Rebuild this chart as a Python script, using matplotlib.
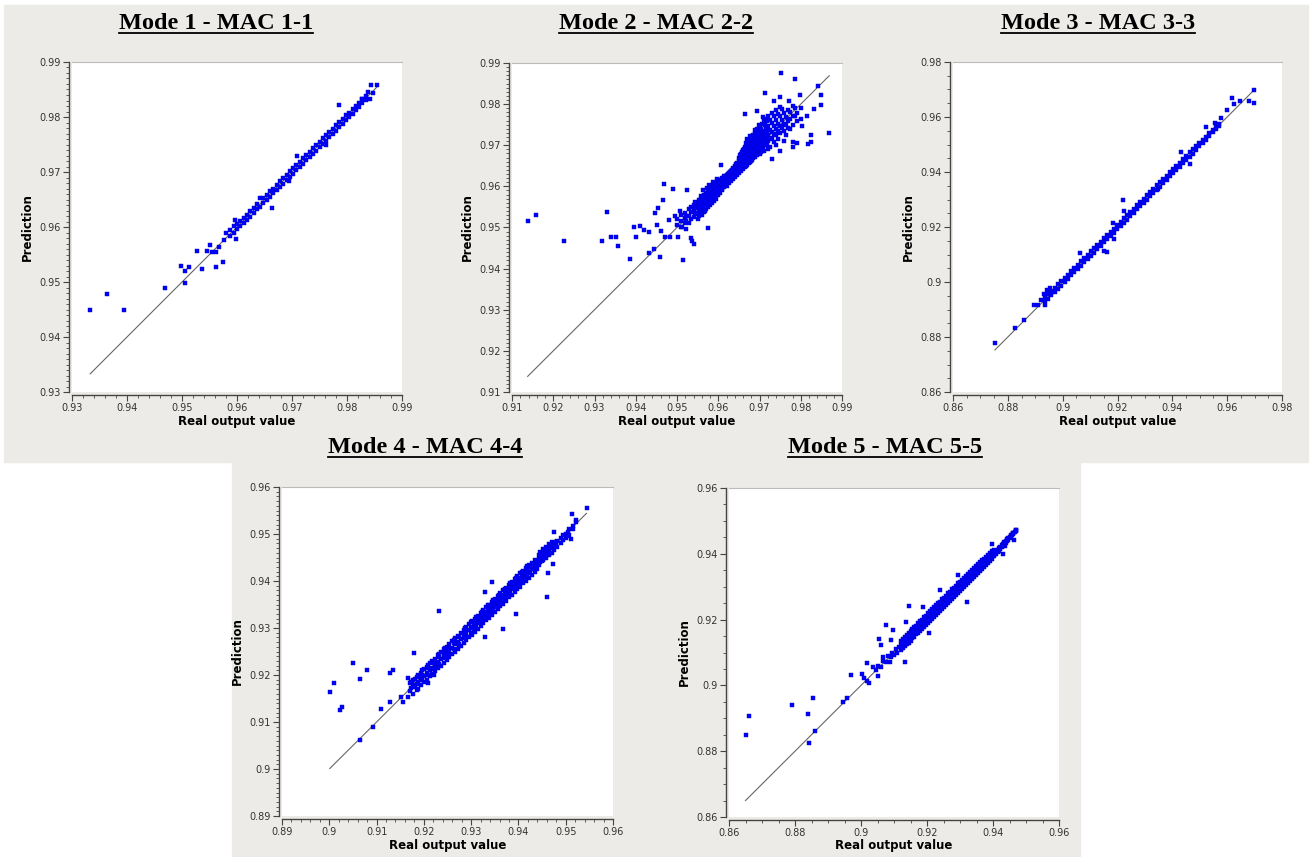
import matplotlib.pyplot as plt
from matplotlib.ticker import MultipleLocator, AutoMinorLocator, FuncFormatter
from matplotlib.patches import Rectangle
from matplotlib.lines import Line2D

titles = ["Mode 1 - MAC 1-1", "Mode 2 - MAC 2-2", "Mode 3 - MAC 3-3",
          "Mode 4 - MAC 4-4", "Mode 5 - MAC 5-5"]
limits = [(0.93, 0.99), (0.91, 0.99), (0.86, 0.98), (0.89, 0.96), (0.86, 0.96)]
steps = [0.01, 0.01, 0.02, 0.01, 0.02]

# isolated points (real, prediction)
out1 = [(0.9333, 0.9449), (0.9363, 0.9478), (0.9395, 0.9449), (0.9469, 0.9490),
        (0.9498, 0.9530), (0.9505, 0.9520), (0.9505, 0.9499), (0.9513, 0.9527),
        (0.9528, 0.9556), (0.9537, 0.9524), (0.9545, 0.9557), (0.9551, 0.9567),
        (0.9554, 0.9554), (0.9561, 0.9554), (0.9561, 0.9528), (0.9567, 0.9564),
        (0.9575, 0.9536), (0.9577, 0.9576), (0.9580, 0.9590), (0.9598, 0.9578),
        (0.9596, 0.9613), (0.9664, 0.9634), (0.9695, 0.9683), (0.9709, 0.9729),
        (0.9761, 0.9749), (0.9786, 0.9822), (0.9827, 0.9833), (0.9842, 0.9833),
        (0.9843, 0.9859), (0.9854, 0.9859), (0.9838, 0.9846), (0.9848, 0.9843)]
# dense band: real value, predictions at that value
band1 = [(0.9588, (0.9594, 0.9583)), (0.9594, (0.9590, 0.9601)), (0.9600, (0.9606, 0.9596)),
         (0.9606, (0.9601, 0.9611)), (0.9612, (0.9617, 0.9607)), (0.9618, (0.9613, 0.9622)),
         (0.9624, (0.9630, 0.9619)), (0.9630, (0.9625, 0.9635)), (0.9636, (0.9641, 0.9632)),
         (0.9642, (0.9637, 0.9653)), (0.9648, (0.9652, 0.9643)), (0.9654, (0.9650, 0.9659)),
         (0.9660, (0.9665, 0.9655)), (0.9666, (0.9661, 0.9670)), (0.9672, (0.9677, 0.9667)),
         (0.9678, (0.9673, 0.9683)), (0.9684, (0.9689, 0.9679)), (0.9690, (0.9685, 0.9695)),
         (0.9696, (0.9701, 0.9691)), (0.9702, (0.9697, 0.9708)), (0.9708, (0.9713, 0.9703)),
         (0.9714, (0.9709, 0.9719)), (0.9720, (0.9725, 0.9715)), (0.9726, (0.9721, 0.9731)),
         (0.9732, (0.9737, 0.9727)), (0.9738, (0.9733, 0.9744)), (0.9744, (0.9749, 0.9739)),
         (0.9750, (0.9745, 0.9755)), (0.9756, (0.9761, 0.9751)), (0.9762, (0.9757, 0.9767)),
         (0.9768, (0.9773, 0.9763)), (0.9774, (0.9769, 0.9779)), (0.9780, (0.9785, 0.9775)),
         (0.9786, (0.9781, 0.9791)), (0.9792, (0.9797, 0.9788)), (0.9798, (0.9794, 0.9803)),
         (0.9804, (0.9808, 0.9800)), (0.9810, (0.9806, 0.9815)), (0.9816, (0.9820, 0.9812)),
         (0.9822, (0.9819, 0.9826)), (0.9828, (0.9832, 0.9825)), (0.9834, (0.9831, 0.9838))]

out2 = [(0.9138, 0.9517), (0.9159, 0.9531), (0.9225, 0.9466), (0.9319, 0.9468),
        (0.9330, 0.9538), (0.9340, 0.9476), (0.9353, 0.9476), (0.9358, 0.9454),
        (0.9387, 0.9423), (0.9396, 0.9501), (0.9400, 0.9478), (0.9411, 0.9504),
        (0.9420, 0.9493), (0.9431, 0.9490), (0.9433, 0.9439), (0.9444, 0.9447),
        (0.9447, 0.9536), (0.9455, 0.9548), (0.9458, 0.9429), (0.9469, 0.9606),
        (0.9467, 0.9568), (0.9472, 0.9478), (0.9483, 0.9478), (0.9491, 0.9594),
        (0.9502, 0.9478), (0.9514, 0.9421), (0.9525, 0.9590), (0.9533, 0.9475),
        (0.9537, 0.9468), (0.9540, 0.9460), (0.9576, 0.9498), (0.9606, 0.9653),
        (0.9751, 0.9875), (0.9785, 0.9862), (0.9713, 0.9826), (0.9749, 0.9818),
        (0.9797, 0.9821), (0.9850, 0.9821), (0.9843, 0.9843), (0.9850, 0.9799),
        (0.9833, 0.9788), (0.9869, 0.9729), (0.9825, 0.9726), (0.9818, 0.9702),
        (0.9825, 0.9707), (0.9780, 0.9695), (0.9791, 0.9705), (0.9780, 0.9707),
        (0.9803, 0.9748), (0.9730, 0.9667), (0.9750, 0.9687), (0.9686, 0.9683),
        (0.9664, 0.9776), (0.9694, 0.9784), (0.9771, 0.9808), (0.9815, 0.9772),
        (0.9734, 0.9808), (0.9481, 0.9518), (0.9452, 0.9505), (0.9462, 0.9492),
        (0.9495, 0.9528), (0.9508, 0.9540), (0.9512, 0.9502), (0.9522, 0.9497)]
band2 = [(0.9500, (0.9520, 0.9505)), (0.9510, (0.9515, 0.9530, 0.9500)),
         (0.9520, (0.9522, 0.9510, 0.9535)), (0.9530, (0.9528, 0.9545, 0.9512)),
         (0.9540, (0.9540, 0.9525, 0.9555)), (0.9550, (0.9548, 0.9535, 0.9560, 0.9520)),
         (0.9555, (0.9552, 0.9568, 0.9540)), (0.9560, (0.9556, 0.9545, 0.9572, 0.9530)),
         (0.9565, (0.9560, 0.9580, 0.9548, 0.9538)),
         (0.9570, (0.9568, 0.9555, 0.9585, 0.9545, 0.9575)),
         (0.9575, (0.9572, 0.9560, 0.9590, 0.9550)),
         (0.9580, (0.9578, 0.9565, 0.9595, 0.9555, 0.9585)),
         (0.9585, (0.9582, 0.9570, 0.9600, 0.9560)),
         (0.9590, (0.9588, 0.9575, 0.9602, 0.9565, 0.9592)),
         (0.9595, (0.9592, 0.9580, 0.9608, 0.9570)),
         (0.9600, (0.9598, 0.9585, 0.9612, 0.9578, 0.9605)),
         (0.9605, (0.9602, 0.9592, 0.9615, 0.9585)), (0.9610, (0.9608, 0.9598, 0.9620, 0.9590)),
         (0.9615, (0.9612, 0.9605, 0.9625, 0.9598)), (0.9620, (0.9618, 0.9610, 0.9628, 0.9602)),
         (0.9625, (0.9622, 0.9615, 0.9632, 0.9608)), (0.9630, (0.9628, 0.9620, 0.9638, 0.9612)),
         (0.9635, (0.9632, 0.9625, 0.9645, 0.9618)), (0.9640, (0.9638, 0.9630, 0.9650, 0.9622)),
         (0.9645, (0.9645, 0.9635, 0.9658, 0.9628)),
         (0.9650, (0.9650, 0.9640, 0.9662, 0.9632, 0.9670)),
         (0.9655, (0.9655, 0.9645, 0.9668, 0.9638, 0.9678)),
         (0.9660, (0.9662, 0.9650, 0.9675, 0.9642, 0.9688)),
         (0.9665, (0.9668, 0.9655, 0.9680, 0.9648, 0.9695)),
         (0.9670, (0.9675, 0.9660, 0.9688, 0.9652, 0.9700, 0.9715)),
         (0.9675, (0.9680, 0.9665, 0.9695, 0.9658, 0.9708)),
         (0.9680, (0.9685, 0.9670, 0.9700, 0.9662, 0.9718)),
         (0.9685, (0.9690, 0.9675, 0.9705, 0.9725, 0.9668)),
         (0.9690, (0.9695, 0.9680, 0.9712, 0.9730, 0.9672)),
         (0.9695, (0.9700, 0.9685, 0.9718, 0.9740)),
         (0.9700, (0.9705, 0.9690, 0.9722, 0.9745, 0.9678)),
         (0.9705, (0.9710, 0.9695, 0.9730, 0.9752)),
         (0.9710, (0.9715, 0.9700, 0.9735, 0.9760, 0.9685)),
         (0.9715, (0.9720, 0.9705, 0.9742, 0.9765)),
         (0.9720, (0.9725, 0.9710, 0.9748, 0.9770, 0.9692)),
         (0.9730, (0.9732, 0.9718, 0.9755, 0.9778)),
         (0.9740, (0.9740, 0.9725, 0.9762, 0.9785, 0.9700)),
         (0.9750, (0.9748, 0.9730, 0.9770, 0.9792)),
         (0.9760, (0.9752, 0.9735, 0.9778, 0.9710)),
         (0.9770, (0.9760, 0.9742, 0.9785)), (0.9780, (0.9770, 0.9750, 0.9795)),
         (0.9790, (0.9778, 0.9760)), (0.9800, (0.9790, 0.9765))]
fill2 = [(0.9523, (0.9528, 0.9516)), (0.9533, (0.9537, 0.9521, 0.9550)),
         (0.9543, (0.9533, 0.9549, 0.9562)), (0.9553, (0.9544, 0.9557, 0.9528, 0.9566)),
         (0.9558, (0.9562, 0.9549, 0.9577, 0.9536)), (0.9563, (0.9566, 0.9552, 0.9574, 0.9591)),
         (0.9568, (0.9561, 0.9579, 0.9550, 0.9540)), (0.9573, (0.9582, 0.9566, 0.9597, 0.9556)),
         (0.9578, (0.9571, 0.9589, 0.9560, 0.9603)), (0.9583, (0.9577, 0.9594, 0.9566, 0.9587)),
         (0.9588, (0.9583, 0.9598, 0.9571, 0.9610)), (0.9593, (0.9586, 0.9603, 0.9577, 0.9596)),
         (0.9598, (0.9591, 0.9606, 0.9582, 0.9618)), (0.9603, (0.9597, 0.9611, 0.9589, 0.9607)),
         (0.9608, (0.9603, 0.9617, 0.9594)), (0.9613, (0.9609, 0.9621, 0.9601)),
         (0.9618, (0.9614, 0.9625, 0.9605)), (0.9623, (0.9619, 0.9630, 0.9611)),
         (0.9628, (0.9624, 0.9634, 0.9616)), (0.9633, (0.9641, 0.9622)),
         (0.9643, (0.9633, 0.9655)), (0.9652, (0.9664, 0.9643, 0.9676)),
         (0.9658, (0.9652, 0.9683, 0.9670)), (0.9663, (0.9672, 0.9661, 0.9691)),
         (0.9668, (0.9684, 0.9650, 0.9705)), (0.9673, (0.9667, 0.9690, 0.9712, 0.9676)),
         (0.9678, (0.9692, 0.9676, 0.9723, 0.9660)), (0.9683, (0.9698, 0.9664, 0.9683, 0.9714)),
         (0.9688, (0.9700, 0.9688, 0.9736, 0.9720)), (0.9693, (0.9707, 0.9677, 0.9692, 0.9725)),
         (0.9698, (0.9713, 0.9696, 0.9750, 0.9730)), (0.9703, (0.9703, 0.9718, 0.9684, 0.9740)),
         (0.9708, (0.9726, 0.9708, 0.9692, 0.9768)), (0.9713, (0.9712, 0.9728, 0.9750)),
         (0.9718, (0.9734, 0.9700, 0.9717, 0.9758)), (0.9725, (0.9738, 0.9716, 0.9762, 0.9695)),
         (0.9735, (0.9746, 0.9728, 0.9770, 0.9708)), (0.9745, (0.9752, 0.9735, 0.9775, 0.9716)),
         (0.9755, (0.9762, 0.9742, 0.9788)), (0.9765, (0.9768, 0.9750, 0.9725)),
         (0.9775, (0.9782, 0.9765, 0.9740)), (0.9785, (0.9772, 0.9790))]

out3 = [(0.8753, 0.8780), (0.8825, 0.8834), (0.8859, 0.8863), (0.8895, 0.8916),
        (0.8910, 0.8916), (0.8935, 0.8916), (0.8920, 0.8934), (0.8932, 0.8958),
        (0.8944, 0.8970), (0.8962, 0.8964), (0.8953, 0.8980), (0.9062, 0.9107),
        (0.9150, 0.9114), (0.9163, 0.9110), (0.9220, 0.9298), (0.9223, 0.9259),
        (0.9183, 0.9216), (0.9187, 0.9155), (0.9348, 0.9337), (0.9430, 0.9474),
        (0.9464, 0.9428), (0.9521, 0.9563), (0.9557, 0.9580), (0.9576, 0.9596),
        (0.9600, 0.9626), (0.9618, 0.9668), (0.9624, 0.9648), (0.9648, 0.9657),
        (0.9679, 0.9659), (0.9697, 0.9651), (0.9697, 0.9699)]
band3 = [(0.8935, (0.8943, 0.8930)), (0.8947, (0.8940, 0.8956)), (0.8959, (0.8967, 0.8951)),
         (0.8971, (0.8963, 0.8979)), (0.8983, (0.8991, 0.8976)), (0.8995, (0.8987, 0.9002)),
         (0.9007, (0.9015, 0.9000)), (0.9019, (0.9011, 0.9027)), (0.9031, (0.9039, 0.9024)),
         (0.9043, (0.9035, 0.9050)), (0.9055, (0.9063, 0.9048)), (0.9067, (0.9059, 0.9075)),
         (0.9079, (0.9087, 0.9072)), (0.9091, (0.9083, 0.9098)), (0.9103, (0.9111, 0.9096)),
         (0.9115, (0.9107, 0.9123)), (0.9127, (0.9135, 0.9120)), (0.9139, (0.9131, 0.9146)),
         (0.9151, (0.9159, 0.9144)), (0.9163, (0.9155, 0.9171)), (0.9175, (0.9183, 0.9168)),
         (0.9187, (0.9179, 0.9194)), (0.9199, (0.9207, 0.9192)), (0.9211, (0.9203, 0.9219)),
         (0.9223, (0.9231, 0.9216)), (0.9235, (0.9227, 0.9242)), (0.9247, (0.9255, 0.9240)),
         (0.9259, (0.9251, 0.9267)), (0.9271, (0.9279, 0.9264)), (0.9283, (0.9275, 0.9290)),
         (0.9295, (0.9303, 0.9288)), (0.9307, (0.9299, 0.9315)), (0.9319, (0.9327, 0.9312)),
         (0.9331, (0.9323, 0.9338)), (0.9343, (0.9351, 0.9336)), (0.9355, (0.9347, 0.9363)),
         (0.9367, (0.9375, 0.9360)), (0.9379, (0.9371, 0.9386)), (0.9391, (0.9399, 0.9384)),
         (0.9403, (0.9395, 0.9411)), (0.9415, (0.9423, 0.9408)), (0.9427, (0.9419, 0.9434)),
         (0.9439, (0.9447, 0.9432)), (0.9451, (0.9443, 0.9459)), (0.9463, (0.9471, 0.9456)),
         (0.9475, (0.9467, 0.9482)), (0.9487, (0.9495, 0.9481)), (0.9499, (0.9493, 0.9506)),
         (0.9511, (0.9517, 0.9505)), (0.9523, (0.9518, 0.9529)), (0.9535, (0.9541, 0.9532)),
         (0.9547, (0.9544, 0.9552)), (0.9559, (0.9563, 0.9556)), (0.9571, (0.9569, 0.9575))]

out4 = [(0.9001, 0.9164), (0.9011, 0.9182), (0.9022, 0.9126), (0.9027, 0.9132),
        (0.9050, 0.9226), (0.9064, 0.9192), (0.9064, 0.9061), (0.9080, 0.9210),
        (0.9092, 0.9089), (0.9110, 0.9128), (0.9128, 0.9204), (0.9135, 0.9211),
        (0.9128, 0.9143), (0.9152, 0.9153), (0.9155, 0.9143), (0.9166, 0.9153),
        (0.9166, 0.9194), (0.9180, 0.9247), (0.9175, 0.9185), (0.9187, 0.9196),
        (0.9208, 0.9184), (0.9231, 0.9336), (0.9367, 0.9297), (0.9395, 0.9330),
        (0.9345, 0.9398), (0.9461, 0.9367), (0.9463, 0.9417), (0.9473, 0.9436),
        (0.9475, 0.9504), (0.9513, 0.9542), (0.9544, 0.9555), (0.9512, 0.9490),
        (0.9330, 0.9377), (0.9329, 0.9281)]
band4 = [(0.9170, (0.9165, 0.9182)), (0.9176, (0.9178, 0.9160, 0.9190)),
         (0.9182, (0.9175, 0.9192)), (0.9188, (0.9185, 0.9170, 0.9200)),
         (0.9194, (0.9190, 0.9205, 0.9178)), (0.9200, (0.9198, 0.9185, 0.9212)),
         (0.9206, (0.9205, 0.9190, 0.9218)), (0.9212, (0.9210, 0.9198, 0.9225)),
         (0.9218, (0.9215, 0.9202, 0.9230)), (0.9224, (0.9222, 0.9208, 0.9235)),
         (0.9230, (0.9228, 0.9215, 0.9242)), (0.9236, (0.9235, 0.9220, 0.9248)),
         (0.9242, (0.9240, 0.9226, 0.9255)), (0.9248, (0.9246, 0.9232, 0.9260)),
         (0.9254, (0.9252, 0.9238, 0.9266)), (0.9260, (0.9258, 0.9245, 0.9272)),
         (0.9266, (0.9265, 0.9250, 0.9278)), (0.9272, (0.9270, 0.9256, 0.9284)),
         (0.9278, (0.9276, 0.9262, 0.9290)), (0.9284, (0.9282, 0.9268, 0.9296)),
         (0.9290, (0.9288, 0.9275, 0.9302)), (0.9296, (0.9295, 0.9280, 0.9308)),
         (0.9302, (0.9300, 0.9286, 0.9314)), (0.9308, (0.9306, 0.9292, 0.9320)),
         (0.9314, (0.9312, 0.9298, 0.9326)), (0.9320, (0.9318, 0.9305, 0.9332)),
         (0.9326, (0.9325, 0.9310, 0.9338)), (0.9332, (0.9330, 0.9316, 0.9344)),
         (0.9338, (0.9336, 0.9322, 0.9350)), (0.9344, (0.9342, 0.9328, 0.9356)),
         (0.9350, (0.9348, 0.9335, 0.9362)), (0.9356, (0.9355, 0.9340, 0.9368)),
         (0.9362, (0.9360, 0.9346, 0.9374)), (0.9368, (0.9366, 0.9352, 0.9380)),
         (0.9374, (0.9372, 0.9358, 0.9386)), (0.9380, (0.9378, 0.9365, 0.9392)),
         (0.9386, (0.9385, 0.9370, 0.9398)), (0.9392, (0.9390, 0.9376, 0.9404)),
         (0.9398, (0.9396, 0.9382, 0.9410)), (0.9404, (0.9402, 0.9388, 0.9416)),
         (0.9410, (0.9408, 0.9395, 0.9422)), (0.9416, (0.9415, 0.9400, 0.9428)),
         (0.9422, (0.9420, 0.9406, 0.9434)), (0.9428, (0.9426, 0.9412, 0.9438)),
         (0.9434, (0.9432, 0.9420, 0.9444)), (0.9440, (0.9438, 0.9425)),
         (0.9446, (0.9452, 0.9440, 0.9462)), (0.9452, (0.9458, 0.9445, 0.9468)),
         (0.9458, (0.9462, 0.9450, 0.9472)), (0.9464, (0.9468, 0.9455, 0.9478)),
         (0.9470, (0.9472, 0.9460, 0.9482)), (0.9476, (0.9480, 0.9466)),
         (0.9482, (0.9485, 0.9472)), (0.9490, (0.9492, 0.9480)), (0.9500, (0.9500, 0.9492)),
         (0.9508, (0.9510, 0.9498)), (0.9516, (0.9518, 0.9510)), (0.9522, (0.9525, 0.9530))]
fill4 = [(0.9173, (0.9172, 0.9186)), (0.9185, (0.9180, 0.9195, 0.9168)),
         (0.9197, (0.9192, 0.9201, 0.9210)), (0.9209, (0.9200, 0.9214, 0.9222)),
         (0.9221, (0.9213, 0.9226, 0.9200)), (0.9233, (0.9224, 0.9238, 0.9245)),
         (0.9245, (0.9236, 0.9250, 0.9258)), (0.9251, (0.9244, 0.9257)),
         (0.9263, (0.9255, 0.9268, 0.9275)), (0.9275, (0.9266, 0.9280, 0.9262)),
         (0.9287, (0.9279, 0.9292, 0.9300)), (0.9299, (0.9290, 0.9303, 0.9312)),
         (0.9305, (0.9297, 0.9310)), (0.9311, (0.9303, 0.9317, 0.9324)),
         (0.9317, (0.9310, 0.9322)), (0.9323, (0.9315, 0.9328, 0.9335)),
         (0.9329, (0.9321, 0.9334)), (0.9335, (0.9327, 0.9341, 0.9348)),
         (0.9341, (0.9334, 0.9346)), (0.9347, (0.9339, 0.9352, 0.9359)),
         (0.9353, (0.9345, 0.9358)), (0.9359, (0.9351, 0.9364, 0.9371)),
         (0.9365, (0.9357, 0.9370)), (0.9371, (0.9363, 0.9376, 0.9383)),
         (0.9377, (0.9369, 0.9382)), (0.9383, (0.9375, 0.9388, 0.9395)),
         (0.9389, (0.9382, 0.9393)), (0.9395, (0.9387, 0.9400, 0.9407)),
         (0.9401, (0.9393, 0.9406)), (0.9407, (0.9399, 0.9412, 0.9419)),
         (0.9413, (0.9405, 0.9418)), (0.9419, (0.9411, 0.9424, 0.9431)),
         (0.9425, (0.9418, 0.9430)), (0.9431, (0.9425, 0.9436)),
         (0.9437, (0.9431, 0.9442)), (0.9443, (0.9446, 0.9434, 0.9455)),
         (0.9449, (0.9455, 0.9443)), (0.9455, (0.9460, 0.9448, 0.9466)),
         (0.9461, (0.9466, 0.9455)), (0.9467, (0.9470, 0.9460, 0.9476)),
         (0.9479, (0.9482, 0.9474)), (0.9495, (0.9497, 0.9488)), (0.9504, (0.9505, 0.9496))]

out5 = [(0.8650, 0.8848), (0.8661, 0.8906), (0.8790, 0.8939), (0.8838, 0.8912),
        (0.8843, 0.8826), (0.8854, 0.8963), (0.8861, 0.8861), (0.8946, 0.8950),
        (0.8959, 0.8963), (0.8970, 0.9033), (0.9002, 0.9036), (0.9009, 0.9024),
        (0.9017, 0.9013), (0.9025, 0.9008), (0.9019, 0.9068), (0.9037, 0.9056),
        (0.9053, 0.9028), (0.9055, 0.9142), (0.9061, 0.9122), (0.9076, 0.9185),
        (0.9066, 0.9086), (0.9088, 0.9071), (0.9090, 0.9137), (0.9098, 0.9167),
        (0.9133, 0.9071), (0.9135, 0.9193), (0.9145, 0.9240), (0.9189, 0.9238),
        (0.9207, 0.9159), (0.9239, 0.9291), (0.9295, 0.9335), (0.9320, 0.9254),
        (0.9396, 0.9431), (0.9431, 0.9398), (0.9436, 0.9423), (0.9465, 0.9443),
        (0.9470, 0.9471), (0.9460, 0.9463)]
band5 = [(0.9045, (0.9048,)), (0.9052, (0.9058,)), (0.9060, (0.9055,)), (0.9068, (0.9075,)),
         (0.9075, (0.9070,)), (0.9082, (0.9090,)), (0.9090, (0.9085,)), (0.9095, (0.9100,)),
         (0.9100, (0.9092,)), (0.9105, (0.9110,)), (0.9110, (0.9100,)), (0.9115, (0.9118,)),
         (0.9120, (0.9122, 0.9108, 0.9135)), (0.9126, (0.9126, 0.9114, 0.9140)),
         (0.9132, (0.9133, 0.9120, 0.9146)), (0.9138, (0.9140, 0.9125, 0.9152)),
         (0.9144, (0.9144, 0.9130, 0.9158)), (0.9150, (0.9152, 0.9136, 0.9165)),
         (0.9156, (0.9157, 0.9143, 0.9170)), (0.9162, (0.9163, 0.9148, 0.9176)),
         (0.9168, (0.9170, 0.9155, 0.9182)), (0.9174, (0.9175, 0.9160, 0.9190)),
         (0.9180, (0.9180, 0.9166, 0.9195)), (0.9186, (0.9188, 0.9172, 0.9200)),
         (0.9192, (0.9193, 0.9178, 0.9207)), (0.9198, (0.9199, 0.9185, 0.9212)),
         (0.9204, (0.9205, 0.9190, 0.9220)), (0.9210, (0.9212, 0.9196, 0.9225)),
         (0.9216, (0.9217, 0.9202, 0.9232)), (0.9222, (0.9223, 0.9208, 0.9237)),
         (0.9228, (0.9230, 0.9214, 0.9243)), (0.9234, (0.9235, 0.9220, 0.9250)),
         (0.9240, (0.9240, 0.9226, 0.9255)), (0.9246, (0.9248, 0.9232, 0.9262)),
         (0.9252, (0.9253, 0.9238, 0.9267)), (0.9258, (0.9259, 0.9244, 0.9273)),
         (0.9264, (0.9265, 0.9250, 0.9280)), (0.9270, (0.9272, 0.9256, 0.9285)),
         (0.9276, (0.9277, 0.9262, 0.9292)), (0.9282, (0.9283, 0.9268, 0.9297)),
         (0.9288, (0.9290, 0.9274, 0.9303)), (0.9294, (0.9295, 0.9280, 0.9310)),
         (0.9300, (0.9300, 0.9286, 0.9315)), (0.9306, (0.9308, 0.9292, 0.9321)),
         (0.9312, (0.9313, 0.9298, 0.9327)), (0.9318, (0.9319, 0.9304, 0.9333)),
         (0.9324, (0.9325, 0.9310, 0.9340)), (0.9330, (0.9332, 0.9316, 0.9345)),
         (0.9336, (0.9337, 0.9322, 0.9351)), (0.9342, (0.9343, 0.9328, 0.9357)),
         (0.9348, (0.9350, 0.9335, 0.9363)), (0.9354, (0.9355, 0.9341, 0.9368)),
         (0.9360, (0.9360, 0.9347, 0.9374)), (0.9366, (0.9367, 0.9353, 0.9380)),
         (0.9372, (0.9373, 0.9360, 0.9385)), (0.9378, (0.9378, 0.9366, 0.9390)),
         (0.9384, (0.9385, 0.9372, 0.9396)), (0.9390, (0.9390, 0.9378, 0.9402)),
         (0.9396, (0.9397, 0.9385, 0.9407)), (0.9402, (0.9402, 0.9392, 0.9412)),
         (0.9410, (0.9410, 0.9400)), (0.9418, (0.9418, 0.9408)), (0.9426, (0.9428, 0.9420)),
         (0.9434, (0.9435, 0.9428)), (0.9442, (0.9445, 0.9438)), (0.9450, (0.9452, 0.9447)),
         (0.9458, (0.9458,)), (0.9466, (0.9465,))]
fill5 = [(0.9123, (0.9115, 0.9128)), (0.9135, (0.9127, 0.9141)), (0.9147, (0.9139, 0.9153)),
         (0.9159, (0.9151, 0.9165)), (0.9171, (0.9163, 0.9177)), (0.9183, (0.9175, 0.9189)),
         (0.9195, (0.9187, 0.9201)), (0.9207, (0.9199, 0.9213)), (0.9219, (0.9211, 0.9225)),
         (0.9231, (0.9223, 0.9237)), (0.9243, (0.9235, 0.9249)), (0.9255, (0.9247, 0.9261)),
         (0.9267, (0.9259, 0.9273)), (0.9279, (0.9271, 0.9285)), (0.9291, (0.9283, 0.9297)),
         (0.9303, (0.9295, 0.9309)), (0.9315, (0.9307, 0.9321)), (0.9327, (0.9319, 0.9333)),
         (0.9339, (0.9331, 0.9345)), (0.9351, (0.9343, 0.9357)), (0.9363, (0.9355, 0.9369)),
         (0.9375, (0.9368, 0.9381)), (0.9387, (0.9380, 0.9393)), (0.9399, (0.9392, 0.9404)),
         (0.9405, (0.9398, 0.9408)), (0.9414, (0.9412, 0.9405)), (0.9422, (0.9420, 0.9414)),
         (0.9430, (0.9431, 0.9424)), (0.9438, (0.9440, 0.9433)), (0.9446, (0.9449, 0.9442)),
         (0.9454, (0.9456, 0.9450)), (0.9462, (0.9463, 0.9460)), (0.9470, (0.9472, 0.9468))]

outliers = [out1, out2, out3, out4, out5]
bands = [band1, band2 + fill2, band3, band4 + fill4, band5 + fill5]

W, H = 1314, 857
BG = '#edebe7'

# pixel boxes of the plot areas (left, top, right, bottom)
boxes = [(72, 62, 402, 392), (512, 63, 842, 392), (953, 62, 1282, 392),
         (282, 487, 613, 816), (729, 488, 1059, 817)]
title_pos = [(216, 29, 32.5), (656, 29, 32.5), (1098, 29, 32.5),
             (425, 453, 457), (885, 453, 457)]

fig = plt.figure(figsize=(W / 100, H / 100), dpi=100, facecolor='white')
fig.add_artist(Rectangle((4 / W, 1 - 462 / H), 1304 / W, 457 / H,
                         transform=fig.transFigure, color=BG, zorder=0))
fig.add_artist(Rectangle((232 / W, 0), 848 / W, 1 - 462 / H,
                         transform=fig.transFigure, color=BG, zorder=0))

fmt = FuncFormatter(lambda v, p: '%g' % round(v, 4))
texts = []
for i in range(5):
    l, t, r, b = boxes[i]
    ax = fig.add_axes([l / W, 1 - b / H, (r - l) / W, (b - t) / H])
    ax.set_facecolor('white')
    real = [p[0] for p in outliers[i]] + [x for x, ys in bands[i] for _ in ys]
    pred = [p[1] for p in outliers[i]] + [y for x, ys in bands[i] for y in ys]
    lo, hi = min(real), max(real)
    ax.plot([lo, hi], [lo, hi], color='#666666', lw=0.8, zorder=2)
    ax.plot(real, pred, 's', color='#0000ff', ms=2.7, mec='#0000c0', mew=0.3, zorder=3)

    a, z = limits[i]
    ax.set_xlim(a, z)
    ax.set_ylim(a, z)
    ax.xaxis.set_major_locator(MultipleLocator(steps[i]))
    ax.yaxis.set_major_locator(MultipleLocator(steps[i]))
    if steps[i] == 0.01:
        ax.xaxis.set_minor_locator(AutoMinorLocator(5))
        ax.yaxis.set_minor_locator(AutoMinorLocator(10))
    else:
        ax.xaxis.set_minor_locator(AutoMinorLocator(4))
        ax.yaxis.set_minor_locator(AutoMinorLocator(4))
    ax.xaxis.set_major_formatter(fmt)
    ax.yaxis.set_major_formatter(fmt)

    for s in ['left', 'bottom']:
        ax.spines[s].set_position(('outward', 2))
        ax.spines[s].set_color('#444444')
        ax.spines[s].set_linewidth(1.0)
    ax.spines['top'].set_color('#bbbbbb')
    ax.spines['right'].set_visible(False)
    ax.tick_params(which='major', direction='out', length=4, width=0.8,
                   color='#444444', labelsize=7, labelcolor='#333333', pad=2)
    ax.tick_params(which='minor', direction='out', length=2.5, width=0.6, color='#444444')

    ax.set_xlabel('Real output value', fontsize=8.5, fontweight='bold', labelpad=1)
    ax.set_ylabel('Prediction', fontsize=8.5, fontweight='bold', labelpad=4)

    cx, by, uy = title_pos[i]
    tx = fig.text(cx / W, 1 - by / H, titles[i], ha='center', va='baseline',
                  fontsize=17.5, fontweight='bold', family='Liberation Serif')
    texts.append((tx, uy))

fig.canvas.draw()
rend = fig.canvas.get_renderer()
for tx, uy in texts:
    bb = tx.get_window_extent(rend)
    fig.add_artist(Line2D([bb.x0 / W, bb.x1 / W], [1 - uy / H, 1 - uy / H],
                          transform=fig.transFigure, color='black', lw=1.3))

fig.savefig('out.png', dpi=100, facecolor='white')
